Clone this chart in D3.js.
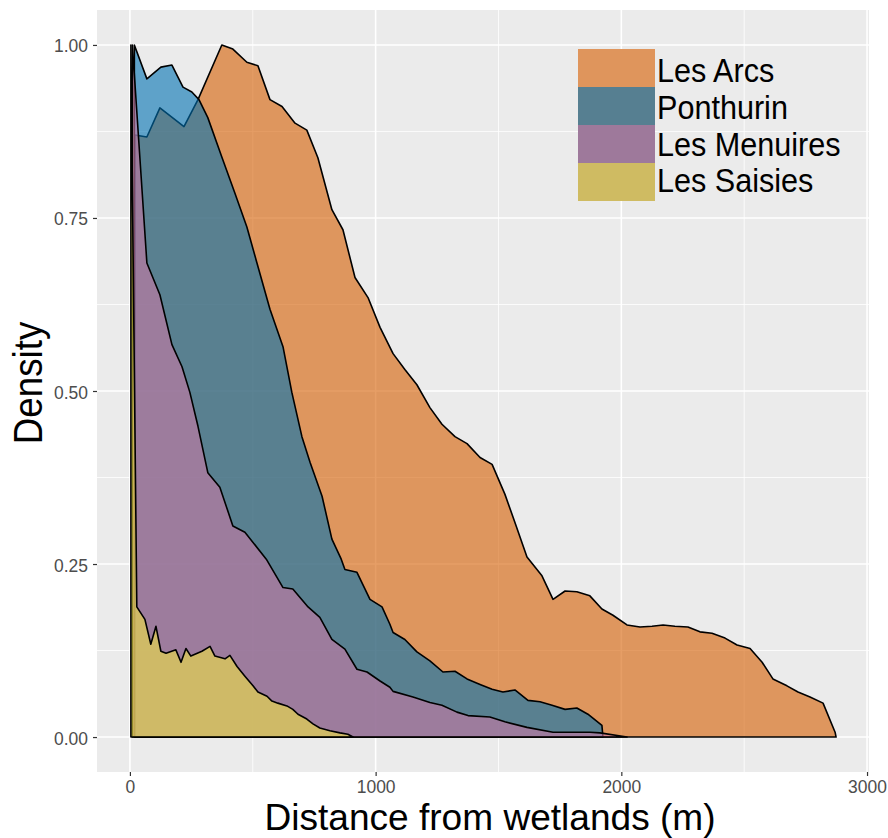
<!DOCTYPE html>
<html>
<head>
<meta charset="utf-8">
<script src="https://cdn.jsdelivr.net/npm/d3@7"></script>
<style>
  html, body { margin: 0; padding: 0; background: #fff; }
  svg { display: block; }
  text { font-family: "Liberation Sans", Arial, Helvetica, sans-serif; }
</style>
</head>
<body>
<svg id="chart" width="888" height="838"></svg>
<script>
// ---------------- data ----------------
const seriesNames = ["Les Arcs", "Ponthurin", "Les Menuires", "Les Saisies"];

const lesArcs = [
  [20,0.870],[69,0.867],[122,0.909],[220,0.882],[277,0.921],[374,1.0],[419,0.994],[476,0.975],
  [521,0.970],[570,0.921],[619,0.911],[672,0.887],[720,0.877],[765,0.837],[822,0.762],[867,0.733],
  [916,0.664],[969,0.635],[1018,0.592],[1071,0.554],[1119,0.531],[1168,0.509],[1221,0.476],
  [1270,0.452],[1323,0.434],[1372,0.424],[1425,0.404],[1474,0.394],[1526,0.351],[1567,0.310],
  [1616,0.260],[1677,0.233],[1722,0.199],[1771,0.211],[1819,0.210],[1872,0.204],[1921,0.185],
  [1966,0.176],[2023,0.162],[2076,0.159],[2125,0.160],[2170,0.162],[2218,0.160],[2271,0.159],
  [2320,0.152],[2369,0.150],[2422,0.143],[2471,0.133],[2524,0.128],[2573,0.108],[2617,0.084],
  [2674,0.074],[2719,0.065],[2768,0.058],[2821,0.049],[2870,0.007],[2874,0.0]
];

const ponthurin = [
  [18,1.0],[69,0.951],[126,0.968],[171,0.971],[216,0.939],[252,0.932],[281,0.921],[317,0.895],
  [374,0.838],[427,0.786],[476,0.737],[517,0.685],[570,0.618],[623,0.564],[659,0.498],[700,0.434],
  [733,0.397],[782,0.348],[822,0.286],[860,0.257],[875,0.242],[924,0.238],[977,0.199],[1026,0.188],
  [1058,0.163],[1071,0.151],[1119,0.141],[1168,0.123],[1221,0.110],[1274,0.094],[1323,0.095],
  [1372,0.084],[1425,0.076],[1474,0.069],[1518,0.065],[1567,0.068],[1620,0.053],[1669,0.051],
  [1718,0.046],[1771,0.040],[1819,0.042],[1864,0.033],[1921,0.017],[1925,0.0]
];

const lesMenuires = [
  [10,1.0],[69,0.685],[122,0.639],[171,0.567],[212,0.535],[244,0.498],[277,0.449],[317,0.382],
  [366,0.361],[419,0.305],[468,0.296],[555,0.257],[623,0.216],[663,0.214],[725,0.188],[773,0.173],
  [822,0.141],[875,0.127],[924,0.098],[965,0.094],[1018,0.081],[1058,0.072],[1071,0.066],
  [1152,0.058],[1221,0.050],[1270,0.046],[1331,0.036],[1376,0.031],[1465,0.029],[1526,0.022],
  [1616,0.014],[1722,0.007],[1779,0.007],[1872,0.007],[1913,0.006],[2023,0.0]
];

const lesSaisies = [
  [4,1.0],[28,0.188],[61,0.170],[85,0.134],[106,0.160],[126,0.124],[147,0.121],[187,0.126],
  [208,0.108],[228,0.128],[248,0.117],[293,0.124],[326,0.131],[346,0.117],[387,0.113],[407,0.118],
  [436,0.102],[468,0.088],[501,0.074],[521,0.065],[558,0.059],[578,0.052],[602,0.049],[639,0.045],
  [663,0.040],[684,0.033],[720,0.026],[745,0.019],[773,0.013],[814,0.009],[855,0.006],[887,0.004],
  [908,0.0]
];

const seriesData = [lesArcs, ponthurin, lesMenuires, lesSaisies];

const xTicks = [0, 1000, 2000, 3000];
const xMinor = [500, 1500, 2500];
const yTicks = [0, 0.25, 0.5, 0.75, 1.0];
const yTickLabels = ["0.00", "0.25", "0.50", "0.75", "1.00"];
const yMinor = [0.125, 0.375, 0.625, 0.875];

// ---------------- styles ----------------
const fillColors = ["#D55E00", "#0072B2", "#CC79A7", "#F0E442"];
const keyColors  = ["#DF955C", "#567F91", "#9E799B", "#CFBB62"];
const fillAlpha = 0.6;
const SX = 0.92; // horizontal text compression

const panel = { left: 97, right: 869, top: 10, bottom: 772 };

const svg = d3.select("#chart");

const x = d3.scaleLinear().domain([-134, 3008]).range([panel.left, panel.right]);
const y = d3.scaleLinear().domain([-0.0505, 1.0505]).range([panel.bottom, panel.top]);

// panel background
svg.append("rect")
  .attr("x", panel.left).attr("y", panel.top)
  .attr("width", panel.right - panel.left).attr("height", panel.bottom - panel.top)
  .attr("fill", "#EBEBEB");

const grid = svg.append("g");
// minor grid
grid.selectAll(".xminor").data(xMinor).enter().append("line")
  .attr("x1", d => x(d)).attr("x2", d => x(d))
  .attr("y1", panel.top).attr("y2", panel.bottom)
  .attr("stroke", "#fff").attr("stroke-width", 0.8);
grid.selectAll(".yminor").data(yMinor).enter().append("line")
  .attr("y1", d => y(d)).attr("y2", d => y(d))
  .attr("x1", panel.left).attr("x2", panel.right)
  .attr("stroke", "#fff").attr("stroke-width", 0.8);
// major grid
grid.selectAll(".xmajor").data(xTicks).enter().append("line")
  .attr("x1", d => x(d)).attr("x2", d => x(d))
  .attr("y1", panel.top).attr("y2", panel.bottom)
  .attr("stroke", "#fff").attr("stroke-width", 1.6);
grid.selectAll(".ymajor").data(yTicks).enter().append("line")
  .attr("y1", d => y(d)).attr("y2", d => y(d))
  .attr("x1", panel.left).attr("x2", panel.right)
  .attr("stroke", "#fff").attr("stroke-width", 1.6);

// density polygons
const line = d3.line().x(d => x(d[0])).y(d => y(d[1]));
const areas = svg.append("g");
seriesData.forEach((pts, i) => {
  const poly = [[pts[0][0], 0]].concat(pts, [[pts[pts.length - 1][0], 0]]);
  areas.append("path")
    .attr("d", line(poly) + "Z")
    .attr("fill", fillColors[i])
    .attr("fill-opacity", fillAlpha)
    .attr("stroke", "#000")
    .attr("stroke-width", 1.6)
    .attr("stroke-linejoin", "round");
});

// axes (ticks + labels)
const xAxis = d3.axisBottom(x).tickValues(xTicks).tickSize(4).tickPadding(6).tickFormat(d3.format("d"));
const gx = svg.append("g").attr("transform", `translate(0,${panel.bottom})`).call(xAxis);
gx.select(".domain").remove();
gx.selectAll(".tick line").attr("stroke", "#333").attr("stroke-width", 1.2);
gx.selectAll(".tick text")
  .attr("fill", "#4D4D4D").attr("font-size", 19)
  .attr("dy", null).attr("y", 0)
  .attr("transform", `translate(0,21) scale(${SX},1)`);

const yAxis = d3.axisLeft(y).tickValues(yTicks).tickSize(4).tickPadding(4)
  .tickFormat((d, i) => yTickLabels[i]);
const gy = svg.append("g").attr("transform", `translate(${panel.left},0)`).call(yAxis);
gy.select(".domain").remove();
gy.selectAll(".tick line").attr("stroke", "#333").attr("stroke-width", 1.2);
gy.selectAll(".tick text")
  .attr("fill", "#4D4D4D").attr("font-size", 19)
  .attr("x", 0).attr("dy", null).attr("y", 0)
  .attr("transform", `translate(-9,7) scale(${SX},1)`);

// axis titles
svg.append("text")
  .attr("text-anchor", "middle")
  .attr("font-size", 36)
  .attr("fill", "#000")
  .attr("transform", `translate(490,830) scale(1.03,1)`)
  .text("Distance from wetlands (m)");

svg.append("text")
  .attr("text-anchor", "middle")
  .attr("font-size", 40)
  .attr("fill", "#000")
  .attr("transform", `translate(42,383) rotate(-90) scale(${SX},1)`)
  .text("Density");

// legend
const legend = svg.append("g");
const keyX = 578, keyW = 77, keyTop = 49, keyH = 38;
const labelBaselines = [82, 119, 156, 192];
seriesNames.forEach((name, i) => {
  legend.append("rect")
    .attr("x", keyX).attr("y", keyTop + i * keyH)
    .attr("width", keyW).attr("height", keyH)
    .attr("fill", keyColors[i]);
  legend.append("text")
    .attr("font-size", 34)
    .attr("fill", "#000")
    .attr("transform", `translate(${keyX + keyW + 2},${labelBaselines[i]}) scale(0.9,1)`)
    .text(name);
});
</script>
</body>
</html>
